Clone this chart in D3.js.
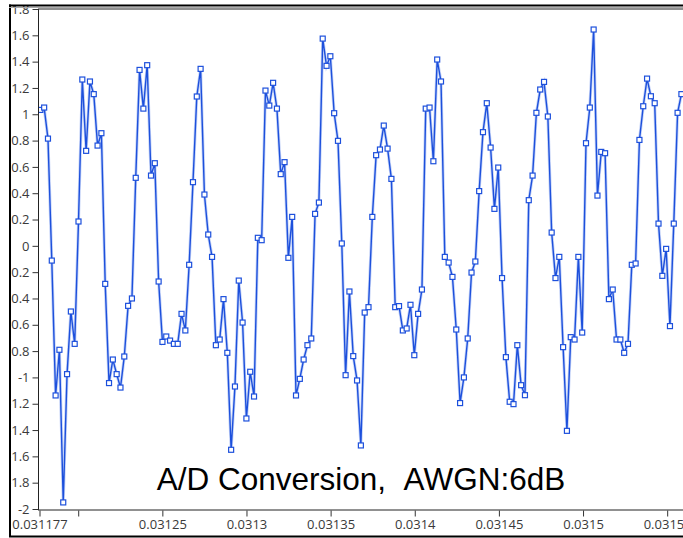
<!DOCTYPE html>
<html>
<head>
<meta charset="utf-8">
<script src="https://cdn.jsdelivr.net/npm/d3@7"></script>
<style>
	body { margin: 0; background: #fff; }
	svg { display: block; }
	.tick text { font-family: "Open Sans", "Noto Sans", sans-serif; font-size: 13px; fill: #3a3a3a; }
</style>
</head>
<body>
<div id="chart"></div>
<script>
// sample amplitudes
var amplitude = [
	1.033, 1.051, 0.815, -0.112, -1.137, -0.79, -1.95, -0.975, -0.499, -0.745,
	0.185, 1.264, 0.722, 1.249, 1.153, 0.762, 0.856, -0.289, -1.043, -0.864,
	-0.975, -1.077, -0.841, -0.456, -0.4, 0.517, 1.337, 1.043, 1.373, 0.534,
	0.628, -0.271, -0.73, -0.689, -0.72, -0.745, -0.745, -0.517, -0.643, -0.144,
	0.484, 1.135, 1.345, 0.39, 0.086, -0.084, -0.755, -0.712, -0.405, -0.813,
	-1.55, -1.069, -0.264, -0.583, -1.312, -0.957, -1.145, 0.061, 0.043, 1.18,
	1.066, 1.239, 1.043, 0.545, 0.636, -0.091, 0.22, -1.137, -1.011, -0.864,
	-0.755, -0.704, 0.243, 0.329, 1.575, 1.368, 1.441, 1.008, 0.798, 0.018,
	-0.983, -0.347, -0.838, -1.023, -1.517, -0.507, -0.466, 0.22, 0.689, 0.732,
	0.914, 0.739, 0.509, -0.466, -0.458, -0.643, -0.628, -0.448, -0.831, -0.517,
	-0.332, 1.043, 1.051, 0.643, 1.416, 1.249, -0.084, -0.127, -0.236, -0.636,
	-1.195, -1.0, -0.704, -0.203, -0.119, 0.416, 0.864, 1.084, 0.747, 0.281,
	0.595, -0.245, -0.846, -1.185, -1.203, -0.755, -1.059, -1.135, 0.347, 0.534,
	1.011, 1.188, 1.246, 0.983, 0.101, -0.245, -0.084, -0.77, -1.406, -0.694,
	-0.712, -0.084, -0.659, 0.78, 1.051, 1.644, 0.382, 0.714, 0.704, -0.405,
	-0.332, -0.712, -0.712, -0.813, -0.745, -0.144, -0.134, 0.805, 1.061, 1.271,
	1.137, 1.084, 0.169, -0.228, -0.023, -0.61, 0.169, 1.011, 1.153
];
var startTime = 0.0311775;
var sampleRate = 441000;
var xTicks = [0.031177, 0.0312, 0.03125, 0.0313, 0.03135, 0.0314, 0.03145, 0.0315, 0.03155];
var xTickLabels = ["0.031177", "", "0.03125", "0.0313", "0.03135", "0.0314", "0.03145", "0.0315", "0.03155"];
var yTicks = [-2, -1.8, -1.6, -1.4, -1.2, -1, -0.8, -0.6, -0.4, -0.2, 0, 0.2, 0.4, 0.6, 0.8, 1, 1.2, 1.4, 1.6, 1.8];
var title = "A/D Conversion,\u00a0\u00a0AWGN:6dB";

(function(){
	var width = 683;
	var height = 538;
	var left = 38.5, top = 9, bottom = 510;
	var blue = "#1d50dc";

	var data = amplitude.map(function(v, i){
		return { t: startTime + i / sampleRate, v: v };
	});

	var svg = d3.select('#chart').append('svg')
		.attr('width', width)
		.attr('height', height);

	var x = d3.scaleLinear()
		.domain([0.031177, 0.0315594])
		.range([left + 1, width]);

	var y = d3.scaleLinear()
		.domain([-2, 1.8])
		.range([bottom - 1, top]);

	// plot frame
	svg.append('rect')
		.attr('x', left).attr('y', top)
		.attr('width', width + 20 - left).attr('height', bottom - top)
		.attr('fill', '#fff')
		.attr('stroke', '#222').attr('stroke-width', 1);

	var yAxis = svg.append('g')
		.attr('transform', 'translate(' + left + ',0)')
		.call(d3.axisLeft(y).tickValues(yTicks).tickSize(6).tickPadding(3)
			.tickFormat(function(d){ return String(+d.toFixed(1)); }));
	yAxis.select('.domain').remove();
	yAxis.selectAll('.tick line').attr('stroke', '#333');

	var xAxis = svg.append('g')
		.attr('transform', 'translate(0,' + (bottom + 0.5) + ')')
		.call(d3.axisBottom(x).tickValues(xTicks).tickSize(6).tickPadding(3)
			.tickFormat(function(d, i){ return xTickLabels[i]; }));
	xAxis.select('.domain').remove();
	xAxis.selectAll('.tick line').attr('stroke', '#333');

	var clip = svg.append('clipPath').attr('id', 'plot')
		.append('rect')
		.attr('x', left + 0.5).attr('y', top + 0.5)
		.attr('width', width - left).attr('height', bottom - top - 1);

	var line = d3.line()
		.x(function(d){ return x(d.t); })
		.y(function(d){ return y(d.v); });

	var plot = svg.append('g').attr('clip-path', 'url(#plot)');

	plot.append('path')
		.datum(data)
		.attr('d', line)
		.attr('fill', 'none')
		.attr('stroke', '#9fb6f2')
		.attr('stroke-width', 3)
		.attr('stroke-opacity', 0.6);

	plot.append('path')
		.datum(data)
		.attr('d', line)
		.attr('fill', 'none')
		.attr('stroke', blue)
		.attr('stroke-width', 1.4);

	plot.selectAll('rect.pt')
		.data(data)
		.enter()
		.append('rect')
		.attr('class', 'pt')
		.attr('x', function(d){ return x(d.t) - 2.5; })
		.attr('y', function(d){ return y(d.v) - 2.5; })
		.attr('width', 5)
		.attr('height', 5)
		.attr('fill', '#fff')
		.attr('stroke', blue)
		.attr('stroke-width', 1.2);

	svg.append('text')
		.attr('x', 361)
		.attr('y', 490)
		.attr('text-anchor', 'middle')
		.attr('font-family', 'Arial, "Liberation Sans", sans-serif')
		.attr('font-size', 31.5)
		.attr('fill', '#000')
		.text(title);

	// outer window edges (labels left of it are cut off)
	svg.append('rect')
		.attr('x', 0).attr('y', 0).attr('width', 9).attr('height', height)
		.attr('fill', '#fff');
	svg.append('rect')
		.attr('x', 0).attr('y', 0).attr('width', width).attr('height', 5)
		.attr('fill', '#fff');
	svg.append('line')
		.attr('x1', 10).attr('x2', 10).attr('y1', 4.5).attr('y2', 537)
		.attr('stroke', '#000').attr('stroke-width', 2);
	svg.append('line')
		.attr('x1', 9).attr('x2', width).attr('y1', 5.5).attr('y2', 5.5)
		.attr('stroke', '#000').attr('stroke-width', 2);
	svg.append('line')
		.attr('x1', 9).attr('x2', width).attr('y1', 7.5).attr('y2', 7.5)
		.attr('stroke', '#aaa').attr('stroke-width', 1);
	svg.append('line')
		.attr('x1', 9).attr('x2', width).attr('y1', 536.5).attr('y2', 536.5)
		.attr('stroke', '#000').attr('stroke-width', 2);
})();
</script>
</body>
</html>
